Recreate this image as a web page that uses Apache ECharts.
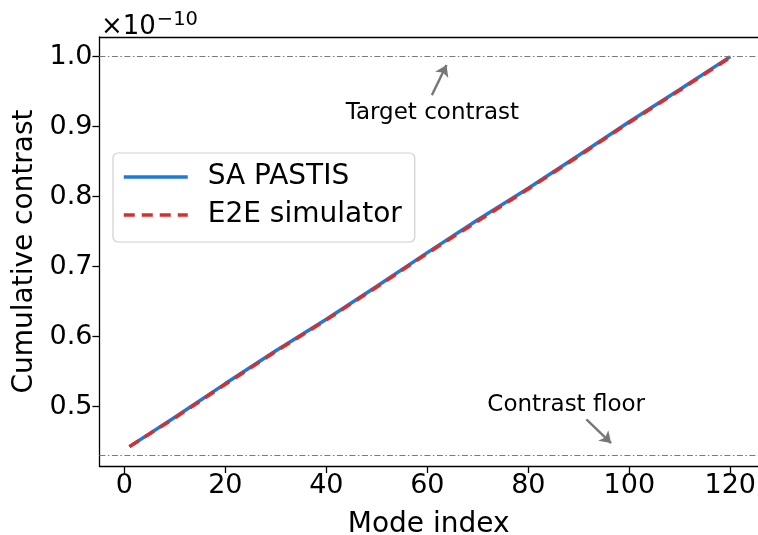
<!DOCTYPE html>
<html>
<head>
<meta charset="utf-8">
<script src="https://cdn.jsdelivr.net/npm/echarts@6/dist/echarts.min.js"></script>
<style>html,body{margin:0;padding:0;background:#fff}#c{width:758px;height:535px}</style>
</head>
<body>
<div id="c"></div>
<script>
// Values in units of 1e-10
const modes = [1, 10, 20, 30, 40, 50, 60, 70, 80, 90, 100, 110, 120];
const saPastis = [0.443, 0.485, 0.533, 0.580, 0.625, 0.672, 0.720, 0.767, 0.812, 0.859, 0.907, 0.953, 1.000];
const e2eSimulator = [0.443, 0.484, 0.532, 0.579, 0.624, 0.671, 0.719, 0.765, 0.811, 0.858, 0.906, 0.952, 0.999];
const targetContrast = 1.0;
const contrastFloor = 0.432;
const xTicks = [0, 20, 40, 60, 80, 100, 120];
const yTicks = [0.5, 0.6, 0.7, 0.8, 0.9, 1.0];
const annotations = [
  { text: 'Target contrast', textAt: [61.0, 0.920], tail: [60.9, 0.945], head: [63.8, 0.988] },
  { text: 'Contrast floor', textAt: [87.5, 0.502], tail: [91.5, 0.482], head: [96.4, 0.448] }
];

const FONT = 'DejaVu Sans';
const chart = echarts.init(document.getElementById('c'), null, { renderer: 'canvas' });

const zip = (xs, ys) => xs.map((x, i) => [x, ys[i]]);

const hlineStyle = { color: '#7a7a7a', width: 1.2, type: [6, 2.5, 1.5, 2.5] };
const spine = { color: '#000', width: 1.3 };

chart.setOption({
  animation: false,
  backgroundColor: '#fff',
  grid: { left: 99.4, top: 37, right: 0, bottom: 69, show: false, containLabel: false, outerBoundsMode: 'none' },
  xAxis: [{
    type: 'value', min: -4.95, max: 125.49,
    name: 'Mode index', nameLocation: 'middle', nameGap: 45,
    nameTextStyle: { fontFamily: FONT, fontSize: 28, color: '#000' },
    axisLine: { show: true, onZero: false, lineStyle: spine },
    axisTick: { show: true, inside: false, length: 7, customValues: xTicks, lineStyle: spine },
    axisLabel: { customValues: xTicks, fontFamily: FONT, fontSize: 27, color: '#000', margin: 6 },
    splitLine: { show: false }
  }, {
    type: 'value', position: 'top', min: -4.95, max: 125.49,
    axisLine: { show: true, onZero: false, lineStyle: spine },
    axisTick: { show: false }, axisLabel: { show: false }, splitLine: { show: false }
  }],
  yAxis: {
    type: 'value', min: 0.4153, max: 1.028,
    name: 'Cumulative contrast', nameLocation: 'middle', nameGap: 60,
    nameTextStyle: { fontFamily: FONT, fontSize: 28, color: '#000' },
    axisLine: { show: true, onZero: false, lineStyle: spine },
    axisTick: { show: true, inside: false, length: 7, customValues: yTicks, lineStyle: spine },
    axisLabel: { customValues: yTicks, fontFamily: FONT, fontSize: 27, color: '#000', margin: 7,
      formatter: v => v.toFixed(1) },
    splitLine: { show: false }
  },
  legend: {
    orient: 'vertical', left: 113, top: 153,
    backgroundColor: '#fff', borderColor: '#d0d0d0', borderWidth: 1.2, borderRadius: 5,
    padding: [10, 13, 13, 9], itemGap: 10,
    itemWidth: 64, itemHeight: 28,
    lineStyle: { width: 3.5 },
    itemStyle: { color: 'rgba(0,0,0,0)', borderWidth: 0, opacity: 0 },
    textStyle: { fontFamily: FONT, fontSize: 28, color: '#000', padding: [0, 0, 0, 15] },
    data: ['SA PASTIS', 'E2E simulator']
  },
  graphic: [{
    type: 'text', left: 101, top: 10,
    style: {
      text: '{a|×10}{b|−10}',
      rich: {
        a: { fontFamily: FONT, fontSize: 26, fill: '#000', verticalAlign: 'bottom', lineHeight: 30 },
        b: { fontFamily: FONT, fontSize: 19.5, fill: '#000', verticalAlign: 'top', padding: [0, 0, 14, 1], lineHeight: 30 }
      }
    }
  }],
  series: [
    {
      name: 'SA PASTIS', type: 'line', data: zip(modes, saPastis),
      symbol: 'none', z: 3,
      lineStyle: { color: '#1f78dc', width: 3.5 }, itemStyle: { color: '#1f78dc' },
      markLine: {
        silent: true, symbol: ['none', 'none'], label: { show: false },
        data: [
          { yAxis: targetContrast, lineStyle: hlineStyle },
          { yAxis: contrastFloor, lineStyle: hlineStyle },
          ...annotations.map(a => [
            { coord: a.tail, symbol: 'none', lineStyle: { color: '#777', width: 2.4, type: 'solid' } },
            { coord: a.head, symbol: 'arrow', symbolSize: [11, 11] }
          ])
        ]
      },
      markPoint: {
        silent: true, symbol: 'circle', symbolSize: 0,
        data: annotations.map(a => ({
          coord: a.textAt,
          label: { show: true, position: 'inside', formatter: a.text, fontFamily: FONT, fontSize: 23, color: '#000' }
        }))
      }
    },
    {
      name: 'E2E simulator', type: 'line', data: zip(modes, e2eSimulator),
      symbol: 'none', z: 4,
      lineStyle: { color: '#d62f2c', width: 3.5, type: [11, 7] }, itemStyle: { color: '#d62f2c' }
    }
  ]
});
</script>
</body>
</html>
